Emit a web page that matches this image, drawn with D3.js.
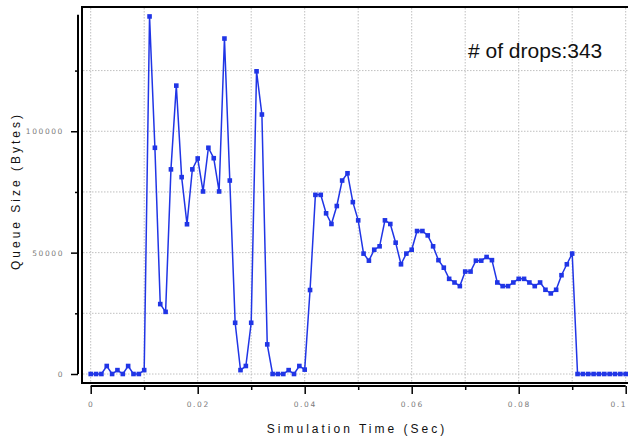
<!DOCTYPE html>
<html>
<head>
<meta charset="utf-8">
<script src="https://cdn.jsdelivr.net/npm/d3@7"></script>
<style>
  body { margin: 0; background: #fff; }
  svg { display: block; font-family: "Liberation Sans", Arial, sans-serif; }
</style>
</head>
<body>
<div id="chart"></div>
<script>
// sample times (sec) and queue size (bytes)
var times = [
  0.000, 0.001, 0.002, 0.003, 0.004, 0.005, 0.006, 0.007, 0.008, 0.009,
  0.010, 0.011, 0.012, 0.013, 0.014, 0.015, 0.016, 0.017, 0.018, 0.019,
  0.020, 0.021, 0.022, 0.023, 0.024, 0.025, 0.026, 0.027, 0.028, 0.029,
  0.030, 0.031, 0.032, 0.033, 0.034, 0.035, 0.036, 0.037, 0.038, 0.039,
  0.040, 0.041, 0.042, 0.043, 0.044, 0.045, 0.046, 0.047, 0.048, 0.049,
  0.050, 0.051, 0.052, 0.053, 0.054, 0.055, 0.056, 0.057, 0.058, 0.059,
  0.060, 0.061, 0.062, 0.063, 0.064, 0.065, 0.066, 0.067, 0.068, 0.069,
  0.070, 0.071, 0.072, 0.073, 0.074, 0.075, 0.076, 0.077, 0.078, 0.079,
  0.080, 0.081, 0.082, 0.083, 0.084, 0.085, 0.086, 0.087, 0.088, 0.089,
  0.090, 0.091, 0.092, 0.093, 0.094, 0.095, 0.096, 0.097, 0.098, 0.099,
  0.100
];
var queueSize = [
  0, 0, 0, 3300, 0, 1600, 0, 3300, 0, 0,
  1600, 147300, 93200, 28800, 25600, 84300, 118800, 81100, 61700, 84300,
  88800, 75200, 93200, 88900, 75200, 138200, 79700, 21100, 1600, 3300,
  21100, 124700, 106900, 12200, 0, 0, 0, 1600, 0, 3300,
  1800, 34600, 73800, 73800, 66200, 61800, 69200, 79700, 82700, 70800,
  63300, 49600, 46700, 51200, 52600, 63300, 61800, 54100, 45200, 49600,
  51200, 58900, 58900, 57100, 52600, 46900, 43800, 39200, 37700, 36200,
  42200, 42200, 46700, 46700, 48200, 46900, 37700, 36200, 36200, 37700,
  39200, 39200, 37700, 36200, 37700, 34700, 33200, 34700, 40700, 45200,
  49600, 0, 0, 0, 0, 0, 0, 0, 0, 0,
  0
];
var xMajorTicks = [0, 0.02, 0.04, 0.06, 0.08, 0.1];
var xMinorTicks = [0.01, 0.03, 0.05, 0.07, 0.09];
var yMajorTicks = [0, 50000, 100000];
var yMinorTicks = [25000, 75000, 125000];
var dropsLabel = "# of drops:343";

var width = 628, height = 437;
var color = "#2035e6";

var svg = d3.select("#chart").append("svg")
  .attr("width", width)
  .attr("height", height);

var x = d3.scaleLinear().domain([0, 0.1]).range([90.7, 625.7]);
var y = d3.scaleLinear().domain([0, 150000]).range([374, 9.9]);

// plot frame
var boxLeft = 82, boxTop = 7, boxBottom = 383;
svg.append("rect")
  .attr("x", boxLeft)
  .attr("y", boxTop)
  .attr("width", width - boxLeft + 10)
  .attr("height", boxBottom - boxTop)
  .attr("fill", "#fff")
  .attr("stroke", "#000")
  .attr("stroke-width", 2);

// grid
var grid = svg.append("g")
  .attr("stroke", "#b0b0b0")
  .attr("stroke-width", 0.8)
  .attr("stroke-dasharray", "1.5,1.5");

grid.selectAll("line.vg")
  .data(xMajorTicks.concat(xMinorTicks))
  .enter().append("line")
  .attr("class", "vg")
  .attr("x1", function(d) { return x(d); })
  .attr("x2", function(d) { return x(d); })
  .attr("y1", boxTop + 1)
  .attr("y2", boxBottom - 1);

grid.selectAll("line.hg")
  .data(yMajorTicks.concat(yMinorTicks))
  .enter().append("line")
  .attr("class", "hg")
  .attr("x1", boxLeft + 1)
  .attr("x2", width)
  .attr("y1", function(d) { return y(d); })
  .attr("y2", function(d) { return y(d); });

// y axis (outside the frame)
var yAxisX = 78;
var yMajor = svg.append("g")
  .attr("transform", "translate(" + yAxisX + ",0)")
  .call(d3.axisLeft(y).tickValues(yMajorTicks).tickSize(7).tickPadding(7)
    .tickFormat(d3.format("d")));
var yMinor = svg.append("g")
  .attr("transform", "translate(" + yAxisX + ",0)")
  .call(d3.axisLeft(y).tickValues(yMinorTicks).tickSize(3).tickFormat(""));
yMajor.select(".domain").remove();
yMinor.select(".domain").remove();
svg.append("line")
  .attr("x1", yAxisX).attr("x2", yAxisX)
  .attr("y1", y(0)).attr("y2", y(148000))
  .attr("stroke", "#000").attr("stroke-width", 2);

// x axis (below the frame)
var xAxisY = 386;
var xMajor = svg.append("g")
  .attr("transform", "translate(0," + xAxisY + ")")
  .call(d3.axisBottom(x).tickValues(xMajorTicks).tickSize(8).tickPadding(8)
    .tickFormat(function(d) { return d === 0 ? "0" : String(+d.toFixed(2)); }));
var xMinor = svg.append("g")
  .attr("transform", "translate(0," + xAxisY + ")")
  .call(d3.axisBottom(x).tickValues(xMinorTicks).tickSize(4).tickFormat(""));
xMajor.select(".domain").remove();
xMinor.select(".domain").remove();
svg.append("line")
  .attr("x1", x(0)).attr("x2", x(0.1))
  .attr("y1", xAxisY).attr("y2", xAxisY)
  .attr("stroke", "#000").attr("stroke-width", 2);

svg.selectAll(".tick line").attr("stroke", "#000").attr("stroke-width", 1.5);
svg.selectAll(".tick text")
  .attr("fill", "#7a7a7a")
  .attr("font-size", 7.5)
  .attr("letter-spacing", "1.6px")
  .attr("font-family", "DejaVu Sans, sans-serif");
// last x label sits at the right edge: keep it inside the page
xMajor.selectAll(".tick text")
  .filter(function(d) { return d === 0.1; })
  .attr("text-anchor", "end")
  .attr("dx", "1px");

// series
var pts = times.map(function(t, i) { return { t: t, v: queueSize[i] }; });

var line = d3.line()
  .x(function(d) { return x(d.t); })
  .y(function(d) { return y(d.v); });

svg.append("path")
  .datum(pts)
  .attr("fill", "none")
  .attr("stroke", color)
  .attr("stroke-width", 1.5)
  .attr("d", line);

svg.selectAll("rect.pt")
  .data(pts)
  .enter().append("rect")
  .attr("class", "pt")
  .attr("x", function(d) { return x(d.t) - 2.3; })
  .attr("y", function(d) { return y(d.v) - 2.3; })
  .attr("width", 4.6)
  .attr("height", 4.6)
  .attr("fill", color);

// labels
svg.append("text")
  .attr("x", 357)
  .attr("y", 433)
  .attr("text-anchor", "middle")
  .attr("font-size", 12)
  .attr("letter-spacing", "3px")
  .attr("fill", "#111")
  .text("Simulation Time (Sec)");

svg.append("text")
  .attr("transform", "translate(20,191) rotate(-90)")
  .attr("text-anchor", "middle")
  .attr("font-size", 12)
  .attr("letter-spacing", "3px")
  .attr("fill", "#111")
  .text("Queue Size (Bytes)");

svg.append("text")
  .attr("x", 468)
  .attr("y", 58)
  .attr("font-size", 21)
  .attr("fill", "#111")
  .text(dropsLabel);
</script>
</body>
</html>
